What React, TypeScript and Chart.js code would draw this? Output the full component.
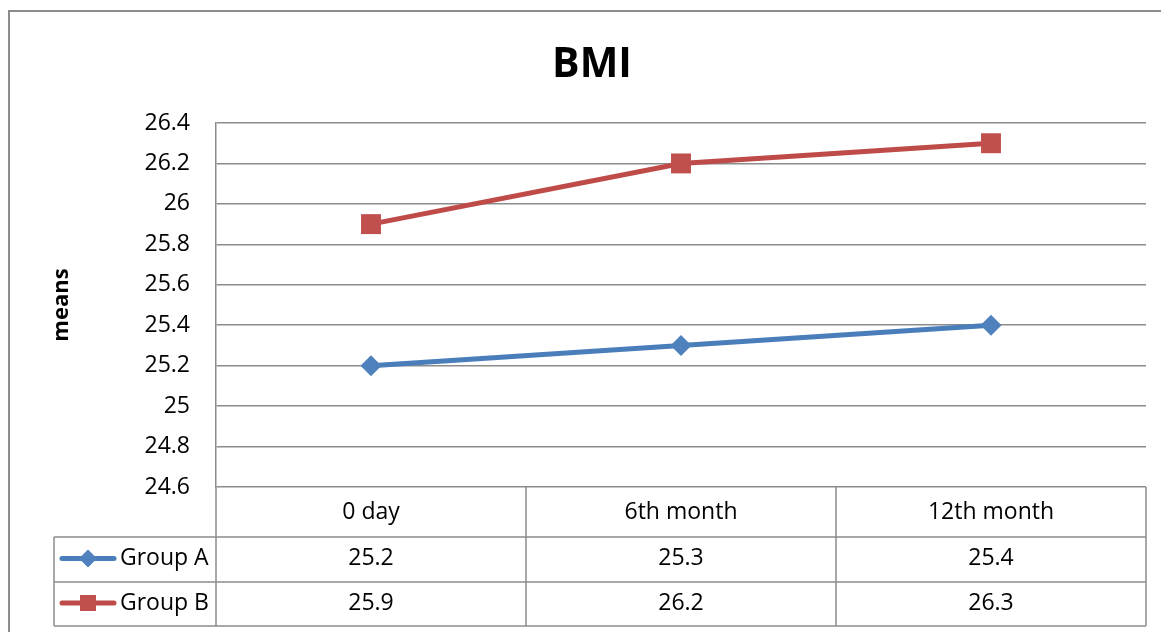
import React, { useEffect, useRef } from "react";
import { Chart, registerables } from "chart.js";

Chart.register(...registerables);

const categories = ["0 day", "6th month", "12th month"];
const groupA = [25.2, 25.3, 25.4];
const groupB = [25.9, 26.2, 26.3];
const seriesNames = ["Group A", "Group B"];
const chartTitle = "BMI";
const yTitle = "means";
const yMin = 24.6;
const yMax = 26.4;
const yStep = 0.2;

const FONT = "'Open Sans', 'Liberation Sans', sans-serif";
const GRID = "#8c8c8c";
const BLUE_LINE = "#4A7EBB";
const BLUE_MARK = "#4F81BD";
const RED_LINE = "#BE4B48";
const RED_MARK = "#C0504D";

function drawKey(ctx: CanvasRenderingContext2D, d: number, x0: number, x1: number, y: number) {
  const line = d === 0 ? BLUE_LINE : RED_LINE;
  const mark = d === 0 ? BLUE_MARK : RED_MARK;
  ctx.save();
  ctx.strokeStyle = line;
  ctx.lineWidth = 5;
  ctx.lineCap = "round";
  ctx.beginPath();
  ctx.moveTo(x0, y);
  ctx.lineTo(x1, y);
  ctx.stroke();
  const cx = (x0 + x1) / 2;
  ctx.fillStyle = mark;
  ctx.beginPath();
  if (d === 0) {
    const r = 9;
    ctx.moveTo(cx, y - r);
    ctx.lineTo(cx + r, y);
    ctx.lineTo(cx, y + r);
    ctx.lineTo(cx - r, y);
    ctx.closePath();
  } else {
    const h = 8;
    ctx.rect(cx - h, y - h, 2 * h, 2 * h);
  }
  ctx.fill();
  ctx.restore();
}

const dataTablePlugin = {
  id: "dataTable",
  beforeDraw(chart: any) {
    const ctx = chart.ctx as CanvasRenderingContext2D;
    ctx.save();
    ctx.fillStyle = "#ffffff";
    ctx.fillRect(0, 0, chart.width, chart.height);
    ctx.strokeStyle = GRID;
    ctx.lineWidth = 2;
    ctx.strokeRect(9, 11, chart.width + 20, chart.height + 20);
    ctx.restore();
  },
  afterDraw(chart: any) {
    const ctx = chart.ctx as CanvasRenderingContext2D;
    const area = chart.chartArea;
    const xs = chart.scales.x;
    const n = categories.length;
    const colW = (area.right - area.left) / n;
    const top = area.bottom;
    const rowH = [50, 45, 44];
    const y1 = top + rowH[0];
    const y2 = y1 + rowH[1];
    const y3 = y2 + rowH[2];
    const legendLeft = 54;
    ctx.save();
    // title
    ctx.fillStyle = "#000000";
    ctx.font = `bold 41px ${FONT}`;
    ctx.textAlign = "center";
    ctx.textBaseline = "alphabetic";
    ctx.fillText(chartTitle, 592, 77);

    ctx.strokeStyle = GRID;
    ctx.lineWidth = 1.5;
    ctx.beginPath();
    [y1, y2, y3].forEach((y) => {
      ctx.moveTo(legendLeft, y);
      ctx.lineTo(area.right, y);
    });
    for (let i = 0; i <= n; i++) {
      const xx = area.left + i * colW;
      ctx.moveTo(xx, top);
      ctx.lineTo(xx, y3);
    }
    ctx.moveTo(legendLeft, y1);
    ctx.lineTo(legendLeft, y3);
    ctx.stroke();

    ctx.fillStyle = "#000000";
    ctx.font = `23px ${FONT}`;
    ctx.textAlign = "center";
    ctx.textBaseline = "middle";
    categories.forEach((c, i) => ctx.fillText(c, xs.getPixelForValue(i), (top + y1) / 2));
    chart.data.datasets.forEach((ds: any, d: number) => {
      const yc = d === 0 ? (y1 + y2) / 2 - 1 : (y2 + y3) / 2 - 1;
      ds.data.forEach((v: number, i: number) => {
        ctx.fillText(String(v), xs.getPixelForValue(i), yc);
      });
      drawKey(ctx, d, 62, 114, yc);
      ctx.textAlign = "left";
      ctx.fillText(ds.label, 120, yc);
      ctx.textAlign = "center";
    });
    ctx.restore();
  },
};

export default function App() {
  const ref = useRef<HTMLCanvasElement | null>(null);
  useEffect(() => {
    if (!ref.current) return;
    const chart = new Chart(ref.current, {
      type: "line",
      data: {
        labels: categories,
        datasets: [
          {
            label: seriesNames[0],
            data: groupA,
            borderColor: BLUE_LINE,
            backgroundColor: BLUE_MARK,
            borderWidth: 5,
            pointStyle: "rectRot",
            pointRadius: 10.5,
            pointBackgroundColor: BLUE_MARK,
            pointBorderColor: BLUE_MARK,
            pointBorderWidth: 0,
            tension: 0,
          },
          {
            label: seriesNames[1],
            data: groupB,
            borderColor: RED_LINE,
            backgroundColor: RED_MARK,
            borderWidth: 5,
            pointStyle: "rect",
            pointRadius: 14.1,
            pointBackgroundColor: RED_MARK,
            pointBorderColor: RED_MARK,
            pointBorderWidth: 0,
            tension: 0,
          },
        ],
      },
      options: {
        responsive: false,
        animation: false,
        devicePixelRatio: 1,
        layout: { padding: { left: 0, top: 123, right: 15, bottom: 145 } },
        plugins: {
          legend: { display: false },
          tooltip: { enabled: false },
          title: { display: false },
        },
        scales: {
          x: {
            type: "category",
            display: false,
            offset: true,
          },
          y: {
            min: yMin,
            max: yMax,
            afterFit: (scale: any) => {
              scale.width = 216;
            },
            ticks: {
              stepSize: yStep,
              padding: 26,
              color: "#000000",
              font: { family: FONT, size: 23 },
              callback: (v: any) => String(Math.round(Number(v) * 10) / 10),
            },
            grid: { color: GRID, lineWidth: 1.5, drawTicks: false },
            border: { display: true, color: GRID, width: 1.5 },
            title: {
              display: true,
              text: yTitle,
              color: "#000000",
              font: { family: FONT, size: 22, weight: "bold" },
              padding: { top: 49, bottom: 0 },
            },
          },
        },
      },
      plugins: [dataTablePlugin],
    });
    return () => chart.destroy();
  }, []);
  return (
    <canvas
      ref={ref}
      width={1161}
      height={632}
      style={{ position: "fixed", left: 0, top: 0, width: 1161, height: 632 }}
    />
  );
}
